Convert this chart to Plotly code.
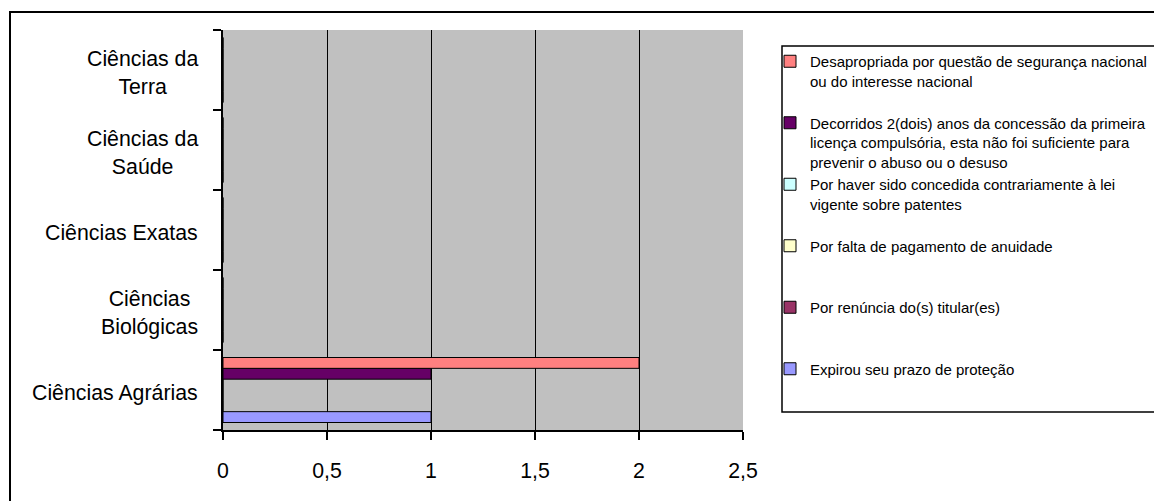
import plotly.graph_objects as go

categories = ["Ciências Agrárias", "Ciências Biológicas", "Ciências Exatas",
              "Ciências da Saúde", "Ciências da Terra"]
category_labels = ["Ciências Agrárias", "Ciências<br>Biológicas", "Ciências Exatas",
                   "Ciências da<br>Saúde", "Ciências da<br>Terra"]

# series (bottom -> top within each category, as drawn)
series_names = [
    "Expirou seu prazo de proteção<br> <br> ",
    "Por renúncia do(s) titular(es)<br> <br> ",
    "Por falta de pagamento de anuidade<br> <br> ",
    "Por haver sido concedida contrariamente à lei<br>vigente sobre patentes<br> ",
    "Decorridos 2(dois) anos da concessão da primeira<br>licença compulsória, esta não foi suficiente para<br>prevenir o abuso ou o desuso",
    "Desapropriada por questão de segurança nacional<br>ou do interesse nacional<br> ",
]
expirou = [1, 0, 0, 0, 0]
renuncia = [0, 0, 0, 0, 0]
falta_pagamento = [0, 0, 0, 0, 0]
haver_concedida = [0, 0, 0, 0, 0]
decorridos = [1, 0, 0, 0, 0]
desapropriada = [2, 0, 0, 0, 0]
series_values = [expirou, renuncia, falta_pagamento, haver_concedida, decorridos, desapropriada]
series_colors = ["#9999FF", "#993366", "#FFFFCC", "#CCFFFF", "#660066", "#FF8080"]

x_ticks = [0, 0.5, 1, 1.5, 2, 2.5]
x_tick_text = ["0", "0,5", "1", "1,5", "2", "2,5"]

W, H = 1154, 501
L, R, T, B = 223, 743, 30, 430
pw, ph = R - L, B - T

def px_x(p):
    return (p - L) / pw

def px_y(p):
    return (B - p) / ph

fig = go.Figure()
for name, vals, col in zip(series_names, series_values, series_colors):
    fig.add_trace(go.Bar(
        y=categories, x=vals, name=name, orientation="h",
        marker=dict(color=col, line=dict(color="black", width=1)),
    ))

FONT = "Liberation Sans, Arial, sans-serif"

annotations = []
for cat, lab in zip(categories, category_labels):
    annotations.append(dict(
        x=px_x(200), xref="paper", y=cat, yref="y", text=lab,
        xanchor="right", yanchor="middle", align="center", showarrow=False,
        yshift=-3, font=dict(family=FONT, size=21.3, color="black"),
    ))

shapes = [
    # outer chart border
    dict(type="rect", xref="paper", yref="paper",
         x0=px_x(10), x1=px_x(1180), y0=px_y(530), y1=px_y(12),
         line=dict(color="black", width=2), fillcolor="rgba(0,0,0,0)", layer="above"),
    # legend box
    dict(type="rect", xref="paper", yref="paper",
         x0=px_x(782), x1=px_x(1180), y0=px_y(412), y1=px_y(46),
         line=dict(color="black", width=1.5), fillcolor="rgba(0,0,0,0)", layer="above"),
]

fig.update_layout(
    width=W, height=H,
    margin=dict(l=L, r=W - R, t=T, b=H - B, autoexpand=False),
    paper_bgcolor="white", plot_bgcolor="#C0C0C0",
    barmode="group", bargap=0.1875, bargroupgap=0,
    font=dict(family=FONT, color="black"),
    showlegend=True,
    legend=dict(
        x=px_x(770), y=px_y(45), xanchor="left", yanchor="top",
        traceorder="reversed", valign="top",
        bgcolor="rgba(0,0,0,0)", borderwidth=0,
        font=dict(family=FONT, size=15, color="black"),
    ),
    xaxis=dict(
        range=[0, 2.5], tickvals=x_ticks, ticktext=x_tick_text,
        showgrid=True, gridcolor="black", gridwidth=1,
        showline=True, linecolor="black", linewidth=1.5,
        ticks="outside", ticklen=8, tickcolor="black", tickwidth=1.5,
        ticklabelstandoff=13, zeroline=False,
        tickfont=dict(family=FONT, size=21.3, color="black"),
        fixedrange=True,
    ),
    yaxis=dict(
        type="category", categoryorder="array", categoryarray=categories,
        showticklabels=False, showgrid=False, zeroline=False,
        showline=True, linecolor="black", linewidth=1.5,
        ticks="outside", ticklen=8, tickcolor="black", tickwidth=1.5,
        tickson="boundaries", fixedrange=True,
    ),
    annotations=annotations, shapes=shapes,
)

fig.write_html(
    "out.html",
    config={"displayModeBar": False},
    post_script="document.body.style.margin='0';document.body.style.overflow='hidden';",
)
